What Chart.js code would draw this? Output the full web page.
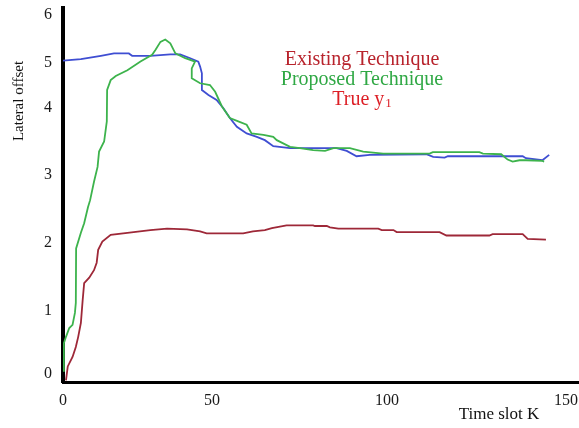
<!DOCTYPE html>
<html>
<head>
<meta charset="utf-8">
<script src="https://cdn.jsdelivr.net/npm/chart.js@4/dist/chart.umd.min.js"></script>
<style>
  html, body { margin: 0; padding: 0; background: #ffffff; }
  #wrap { width: 579px; height: 428px; }
</style>
</head>
<body>
<div id="wrap"><canvas id="chart" width="579" height="428"></canvas></div>
<script>
// Tick labels of both axes
const kTicks = [0, 50, 100, 150];
const offsetTicks = [0, 1, 2, 3, 4, 5, 6];

// Existing technique
const existingK = [1.0, 1.6, 3.2, 4.3, 5.1, 6.0, 6.6, 7.1, 8.8, 10.4, 11.3, 11.8, 13.2, 16.0, 21.6, 29.3, 34.9, 41.6, 46.0, 48.2, 58.9, 61.7, 65.1, 67.1, 71.3, 78.9, 79.4, 82.8, 83.7, 86.1, 97.5, 98.5, 101.8, 102.7, 114.7, 116.6, 128.6, 129.5, 137.9, 139.3, 144.4];
const existingY = [-0.1, 0.12, 0.27, 0.43, 0.59, 0.81, 1.16, 1.41, 1.49, 1.60, 1.71, 1.90, 2.02, 2.12, 2.15, 2.19, 2.21, 2.20, 2.17, 2.14, 2.14, 2.17, 2.19, 2.22, 2.26, 2.26, 2.25, 2.25, 2.23, 2.21, 2.21, 2.19, 2.19, 2.16, 2.16, 2.11, 2.11, 2.13, 2.13, 2.06, 2.05];

// Proposed technique
const proposedK = [0, 0.3, 1.0, 2.1, 3.2, 4.0, 4.3, 4.4, 6.0, 7.1, 8.4, 9.1, 10.4, 11.6, 12.1, 13.8, 14.7, 14.8, 16.0, 17.7, 21.6, 26.0, 29.9, 31.0, 32.7, 34.3, 36.0, 37.7, 41.0, 44.3, 43.2, 43.2, 46.0, 49.3, 50.9, 52.8, 55.1, 57.5, 59.9, 61.3, 64.7, 67.5, 68.5, 72.3, 75.1, 78.9, 82.3, 84.7, 89.4, 93.2, 98.9, 111.9, 112.8, 125.8, 126.8, 131.9, 133.7, 135.1, 137.0, 138.8, 143.4, 143.9];
const proposedY = [0.05, 0.49, 0.59, 0.73, 0.78, 0.97, 1.12, 1.92, 2.15, 2.29, 2.53, 2.63, 2.90, 3.12, 3.35, 3.50, 3.80, 4.40, 4.62, 4.71, 4.84, 5.03, 5.17, 5.27, 5.44, 5.49, 5.41, 5.20, 5.10, 5.03, 4.88, 4.66, 4.55, 4.51, 4.36, 4.04, 3.85, 3.80, 3.75, 3.62, 3.60, 3.57, 3.52, 3.42, 3.40, 3.37, 3.36, 3.40, 3.40, 3.35, 3.32, 3.32, 3.34, 3.34, 3.32, 3.31, 3.23, 3.20, 3.22, 3.22, 3.21, 3.20];

// True y1
const trueK = [0, 6.0, 12.7, 17.1, 22.1, 23.2, 29.3, 36.0, 39.3, 42.7, 45.4, 46.0, 46.6, 46.6, 48.8, 51.3, 53.2, 55.1, 57.1, 59.9, 62.8, 65.1, 67.5, 72.3, 85.6, 88.5, 91.3, 95.1, 111.0, 112.9, 116.1, 117.0, 137.9, 138.8, 143.4, 145.3];
const trueY = [5.05, 5.08, 5.15, 5.20, 5.20, 5.15, 5.15, 5.18, 5.18, 5.10, 5.03, 4.92, 4.77, 4.40, 4.29, 4.18, 4.00, 3.85, 3.72, 3.62, 3.57, 3.52, 3.43, 3.40, 3.40, 3.36, 3.28, 3.30, 3.31, 3.27, 3.26, 3.28, 3.28, 3.25, 3.22, 3.30];

const toPoints = (xs, ys) => xs.map((x, i) => ({ x: x, y: ys[i] }));

// Axes whose tick labels are unevenly spaced: each tick value sits at its own
// fraction of the axis length, values in between are interpolated linearly.
const AXIS_LAYOUT = {
  x: { values: kTicks, fractions: [0, 0.2888, 0.6279, 0.9748] },
  y: { values: offsetTicks, fractions: [0.0214, 0.1898, 0.3717, 0.5535, 0.7326, 0.8529, 0.9813] }
};

function interp(v, from, to) {
  let i = 0;
  while (i < from.length - 2 && v > from[i + 1]) i++;
  const t = (v - from[i]) / (from[i + 1] - from[i]);
  return to[i] + t * (to[i + 1] - to[i]);
}

class SegmentedScale extends Chart.LinearScale {
  static id = 'segmented';
  static defaults = {};
  getPixelForValue(value) {
    if (value === null || value === undefined || isNaN(value)) return NaN;
    const lay = AXIS_LAYOUT[this.id];
    return this.getPixelForDecimal(interp(value, lay.values, lay.fractions));
  }
  getValueForPixel(pixel) {
    const lay = AXIS_LAYOUT[this.id];
    return interp(this.getDecimalForPixel(pixel), lay.fractions, lay.values);
  }
}
Chart.register(SegmentedScale);

const SERIF = "'Liberation Serif', 'DejaVu Serif', serif";

// Axis titles and the coloured caption block
const captionPlugin = {
  id: 'captions',
  afterDraw(chart) {
    const ctx = chart.ctx;
    ctx.save();
    ctx.textBaseline = 'middle';

    ctx.fillStyle = '#111111';
    ctx.font = '17px ' + SERIF;
    ctx.textAlign = 'center';
    ctx.fillText('Time slot K', 499, 415);

    ctx.save();
    ctx.translate(19, 101);
    ctx.rotate(-Math.PI / 2);
    ctx.font = '15px ' + SERIF;
    ctx.fillText('Lateral offset', 0, 0);
    ctx.restore();

    const cx = 362;
    ctx.font = '20px ' + SERIF;
    ctx.fillStyle = '#b8232c';
    ctx.fillText('Existing Technique', cx, 60);
    ctx.fillStyle = '#2fa844';
    ctx.fillText('Proposed Technique', cx, 80);

    // "True y" with subscript 1
    ctx.fillStyle = '#dd1f26';
    const main = 'True y';
    ctx.font = '20px ' + SERIF;
    const wMain = ctx.measureText(main).width;
    ctx.font = '13px ' + SERIF;
    const wSub = ctx.measureText('1').width;
    const left = cx - (wMain + wSub + 1) / 2;
    ctx.textAlign = 'left';
    ctx.font = '20px ' + SERIF;
    ctx.fillText(main, left, 100);
    ctx.font = '13px ' + SERIF;
    ctx.fillText('1', left + wMain + 1, 104);
    ctx.restore();
  }
};

const lineStyle = { borderWidth: 1.8, pointRadius: 0, pointHoverRadius: 0, tension: 0, fill: false };

new Chart(document.getElementById('chart'), {
  type: 'line',
  data: {
    datasets: [
      Object.assign({ label: 'Existing Technique', data: toPoints(existingK, existingY), borderColor: '#9e2838' }, lineStyle),
      Object.assign({ label: 'Proposed Technique', data: toPoints(proposedK, proposedY), borderColor: '#3db34c' }, lineStyle),
      Object.assign({ label: 'True y1', data: toPoints(trueK, trueY), borderColor: '#3f4ed2' }, lineStyle)
    ]
  },
  options: {
    responsive: false,
    animation: false,
    devicePixelRatio: 1,
    layout: { padding: { top: 8, left: 0, right: 0, bottom: 0 } },
    plugins: { legend: { display: false }, tooltip: { enabled: false } },
    scales: {
      x: {
        type: 'segmented',
        min: 0,
        max: 153.3,
        grid: { display: false, drawTicks: false },
        border: { display: true, color: '#000000', width: 3 },
        ticks: {
          font: { family: SERIF, size: 16 },
          color: '#1a1a1a',
          padding: 9,
          autoSkip: false,
          maxRotation: 0,
          callback: (v) => String(v)
        },
        afterBuildTicks: (s) => { s.ticks = kTicks.map(v => ({ value: v })); },
        afterFit: (s) => { s.height = 46; s.paddingLeft = 0; s.paddingRight = 0; }
      },
      y: {
        type: 'segmented',
        min: -0.127,
        max: 6.146,
        grid: { display: false, drawTicks: false },
        border: { display: true, color: '#000000', width: 4 },
        ticks: {
          font: { family: SERIF, size: 16 },
          color: '#1a1a1a',
          padding: 11,
          autoSkip: false,
          callback: (v) => String(v)
        },
        afterBuildTicks: (s) => { s.ticks = offsetTicks.map(v => ({ value: v })); },
        afterFit: (s) => { s.width = 63; s.paddingTop = 0; s.paddingBottom = 0; }
      }
    }
  },
  plugins: [captionPlugin]
});
</script>
</body>
</html>
